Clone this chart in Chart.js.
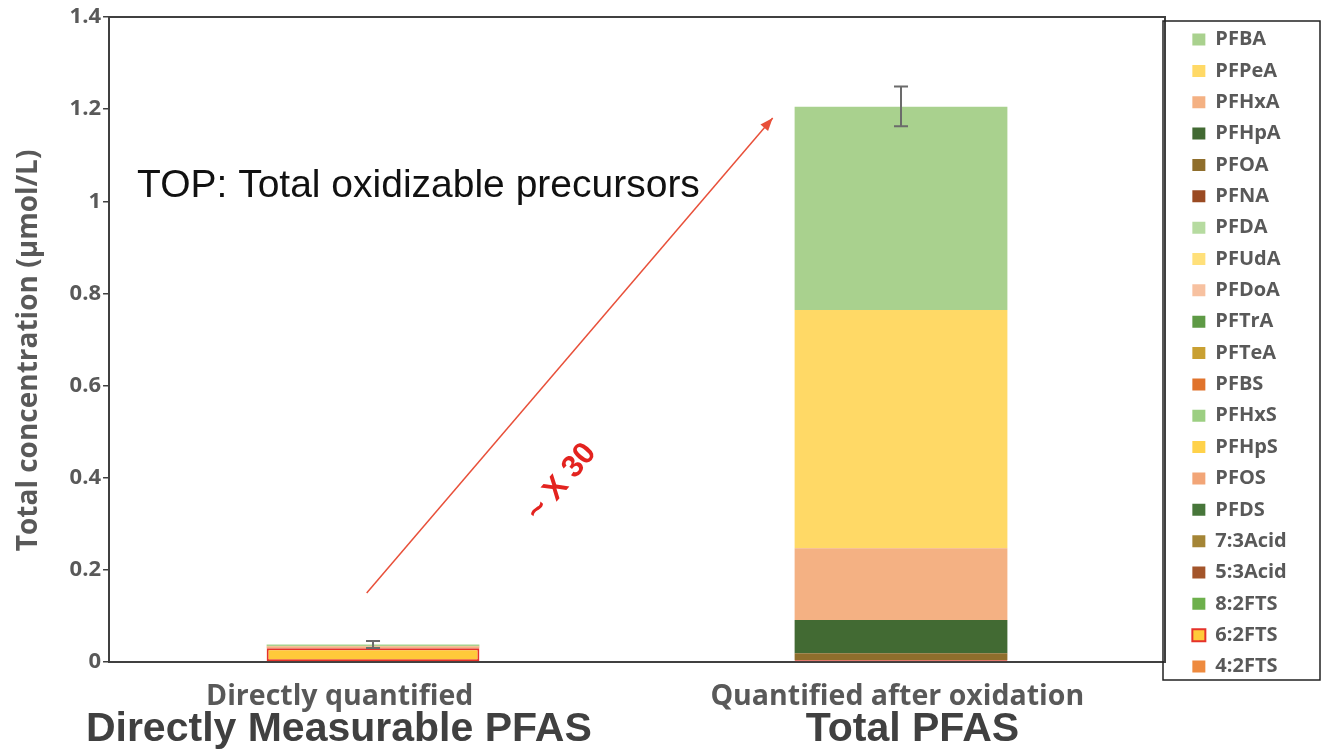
<!DOCTYPE html>
<html><head><meta charset="utf-8">
<script src="https://cdn.jsdelivr.net/npm/chart.js@4.4.1/dist/chart.umd.min.js"></script>
<style>html,body{margin:0;padding:0;background:#fff;overflow:hidden}</style>
</head><body>
<canvas id="c" width="1321" height="750"></canvas>
<script>
// ---- data ----
const categories = ["Directly quantified         ", "Quantified after oxidation "];
const groupLabels = ["Directly Measurable PFAS      ", "  Total PFAS"];
const seriesNames = ["PFBA","PFPeA","PFHxA","PFHpA","PFOA","PFNA","PFDA","PFUdA","PFDoA","PFTrA","PFTeA","PFBS","PFHxS","PFHpS","PFOS","PFDS","7:3Acid","5:3Acid","8:2FTS","6:2FTS","4:2FTS"];
// value of each series (legend order) in each category
const directValues   = [0.004,0,0.004,0,0,0,0,0,0,0,0,0,0,0,0,0,0,0,0,0.030,0];
const oxidizedValues = [0.441,0.517,0.156,0.072,0.015,0,0,0,0,0,0,0,0,0,0,0,0,0,0,0.004,0];
const errCenter = [0.038, 1.206];
const errHalf   = [0.0075, 0.043];
const yTickValues = [0, 0.2, 0.4, 0.6, 0.8, 1, 1.2, 1.4];
const yTickLabels = ["0", "0.2", "0.4", "0.6", "0.8", "1", "1.2", "1.4"];
const yTitle = "Total concentration (µmol/L)   ";
// annotation anchors in data units: [category position, value]
const noteText = "TOP: Total oxidizable precursors";
const notePos = [-0.447, 1.033];
const ratioText = "~ X 30";
const ratioPos = [0.357, 0.39];
const arrowFrom = [-0.012, 0.15];
const arrowTo = [0.757, 1.181];

// ---- styles ----
const seriesColors = ['#a9d18e','#ffd966','#f4b183','#426a33','#8f6e2c','#9a4a22','#b6dba0','#ffe07a','#f7c1a0','#5e9a45','#c9a032','#e0732c','#9ccf82','#ffd24a','#f2a577','#47763a','#a48536','#a3552a','#6db04c','#ffca3a','#ee8a3e'];
const AXIS = '#404040', GRAYTXT = '#595959';

const datasets = [];
for (let i = seriesNames.length - 1; i >= 0; i--) {
  const special = seriesNames[i] === '6:2FTS';
  datasets.push({
    label: seriesNames[i],
    data: [directValues[i], oxidizedValues[i]],
    backgroundColor: seriesColors[i],
    borderColor: special ? '#e5322a' : seriesColors[i],
    borderWidth: special ? 2 : 0,
    borderSkipped: special ? false : 'start',
    barPercentage: 0.403,
    categoryPercentage: 1
  });
}

const decor = {
  id: 'decor',
  beforeLayout(chart) {
    const lg = chart.legend;
    if (lg && !lg._fixedW) {
      const f = lg.fit;
      lg.fit = function () { f.call(this); this.width = 156; };
      lg._fixedW = true;
    }
  },
  afterLayout(chart) {
    const lg = chart.legend;
    lg.left += 16; lg.top = 18.2;
  },
  afterDatasetsDraw(chart) {
    const ctx = chart.ctx, x = chart.scales.x, y = chart.scales.y, a = chart.chartArea;
    ctx.save();
    // frame top/right
    ctx.strokeStyle = AXIS; ctx.lineWidth = 2;
    ctx.beginPath(); ctx.moveTo(a.left, a.top); ctx.lineTo(a.right, a.top); ctx.lineTo(a.right, a.bottom); ctx.stroke();
    // error bars
    ctx.strokeStyle = '#6b6b6b'; ctx.lineWidth = 2;
    for (let i = 0; i < categories.length; i++) {
      const px = x.getPixelForValue(i);
      const t = y.getPixelForValue(errCenter[i] + errHalf[i]);
      const b = y.getPixelForValue(errCenter[i] - errHalf[i]);
      ctx.beginPath();
      ctx.moveTo(px, t); ctx.lineTo(px, b);
      ctx.moveTo(px - 7, t); ctx.lineTo(px + 7, t);
      ctx.moveTo(px - 7, b); ctx.lineTo(px + 7, b);
      ctx.stroke();
    }
    // arrow
    const x0 = x.getPixelForValue(arrowFrom[0]), y0 = y.getPixelForValue(arrowFrom[1]);
    const x1 = x.getPixelForValue(arrowTo[0]), y1 = y.getPixelForValue(arrowTo[1]);
    ctx.strokeStyle = '#e8503a'; ctx.fillStyle = '#e8503a'; ctx.lineWidth = 1.5;
    ctx.beginPath(); ctx.moveTo(x0, y0); ctx.lineTo(x1, y1); ctx.stroke();
    const ang = Math.atan2(y1 - y0, x1 - x0);
    ctx.beginPath();
    ctx.moveTo(x1, y1);
    ctx.lineTo(x1 - 13 * Math.cos(ang) + 5 * Math.sin(ang), y1 - 13 * Math.sin(ang) - 5 * Math.cos(ang));
    ctx.lineTo(x1 - 13 * Math.cos(ang) - 5 * Math.sin(ang), y1 - 13 * Math.sin(ang) + 5 * Math.cos(ang));
    ctx.closePath(); ctx.fill();
    // note text
    ctx.fillStyle = '#111'; ctx.font = '39px "Liberation Sans"';
    ctx.textAlign = 'left'; ctx.textBaseline = 'middle';
    ctx.fillText(noteText, x.getPixelForValue(notePos[0]), y.getPixelForValue(notePos[1]));
    // ratio text
    ctx.translate(x.getPixelForValue(ratioPos[0]), y.getPixelForValue(ratioPos[1]));
    ctx.rotate(-50 * Math.PI / 180);
    ctx.fillStyle = '#e3231f'; ctx.font = 'bold 31px "Liberation Sans"';
    ctx.textAlign = 'center';
    ctx.fillText(ratioText, 0, 0);
    ctx.restore();
  },
  afterDraw(chart) {
    const ctx = chart.ctx, a = chart.chartArea;
    ctx.save();
    ctx.strokeStyle = '#222'; ctx.lineWidth = 1.5;
    ctx.strokeRect(a.right - 2, a.top + 4, chart.width - a.right + 1, a.bottom - a.top + 14);
    ctx.restore();
  }
};

new Chart(document.getElementById('c'), {
  type: 'bar',
  data: { labels: categories, datasets },
  options: {
    responsive: false, animation: false, devicePixelRatio: 1,
    layout: { padding: { top: 17, left: 12, right: 0, bottom: 14 } },
    plugins: {
      tooltip: { enabled: false },
      legend: {
        position: 'right', align: 'start', reverse: true,
        labels: {
          boxWidth: 13, boxHeight: 12, padding: 11.35, color: GRAYTXT,
          font: { family: 'Open Sans', weight: 'bold', size: 20, lineHeight: 1 }
        }
      }
    },
    scales: {
      x: {
        type: 'category', labels: categories, stacked: true, offset: true,
        grid: { display: false, drawTicks: false },
        border: { display: true, color: AXIS, width: 2 },
        ticks: { color: GRAYTXT, padding: 20.75, maxRotation: 0, autoSkip: false,
          font: { family: 'Open Sans', weight: 'bold', size: 28.5, lineHeight: 1 } }
      },
      x2: {
        type: 'category', labels: groupLabels, position: 'bottom', offset: true,
        grid: { display: false, drawTicks: false },
        border: { display: false },
        ticks: { color: AXIS, padding: 2, mirror: true, maxRotation: 0, autoSkip: false,
          font: { family: 'Liberation Sans', weight: 'bold', size: 41, lineHeight: 0 } }
      },
      y: {
        stacked: true, min: yTickValues[0], max: yTickValues[yTickValues.length - 1],
        afterBuildTicks(scale) { scale.ticks = yTickValues.map(v => ({ value: v })); },
        grid: { display: true, drawOnChartArea: false, tickLength: 6, color: AXIS, lineWidth: 1.5 },
        border: { display: true, color: AXIS, width: 2 },
        ticks: { color: GRAYTXT, padding: 2,
          callback: (v, i) => yTickLabels[i],
          font: { family: 'Open Sans', weight: 'bold', size: 22 } },
        title: { display: true, text: yTitle, color: GRAYTXT,
          font: { family: 'Open Sans', weight: 'bold', size: 28 }, padding: { top: 0, bottom: 22 } }
      }
    }
  },
  plugins: [decor]
});
</script>
</body></html>
